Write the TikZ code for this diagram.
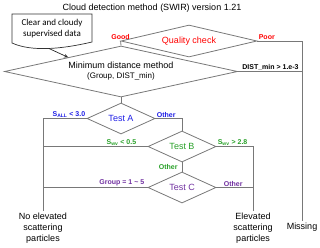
\documentclass[tikz,border=0pt]{standalone}
\usepackage{fontspec}
\setmainfont{Liberation Sans}
\newfontfamily\docfont{Carlito}
\usetikzlibrary{arrows.meta,shapes.geometric,positioning}
\definecolor{linegray}{RGB}{120,120,120}
\definecolor{cred}{RGB}{255,0,0}
\definecolor{cblue}{RGB}{30,30,230}
\definecolor{cgreen}{RGB}{40,160,40}
\definecolor{cpurple}{RGB}{112,48,160}
\begin{document}
\begin{tikzpicture}[x=1pt,y=-1pt]
\tikzset{
  decision/.style={diamond,draw=linegray,line width=0.8pt,inner sep=0pt,font=\fontsize{9}{11}\selectfont},
  testbox/.style={decision,aspect=2.2,minimum width=68pt,minimum height=31pt},
  flow/.style={draw=linegray,line width=0.8pt},
  cond/.style={font=\fontsize{7}{8}\selectfont\bfseries,inner sep=1pt},
  result/.style={align=center,font=\fontsize{9}{11}\selectfont,inner sep=2pt}
}
\useasboundingbox (0,0) rectangle (320,247);
\node[font=\fontsize{9}{11}\selectfont] (n_title) at (152,8) {Cloud detection method (SWIR) version 1.21};
% supervised data
\draw[black!80,line width=0.7pt] (12,14) -- (92,14) -- (92,42) .. controls (62,49) and (32,52) .. (12,43) -- cycle;
\node[align=center,font=\docfont\fontsize{9}{11}\selectfont] (n_doc) at (52,28.5) {Clear and cloudy\\supervised data};
\coordinate (c_docout) at (49,48.5);
% decisions
\node[decision,aspect=4.25,minimum width=136pt,minimum height=32pt,text=cred] (n_qc) at (189,41) {Quality check};
\node[decision,aspect=4.57,minimum width=233pt,minimum height=51pt,align=center] (n_mdm) at (121,71.5) {Minimum distance method\\[-1pt]{\fontsize{8}{9}\selectfont (Group, DIST\_min)}};
\node[testbox,text=cblue] (n_ta) at (121,118.5) {Test A};
\node[testbox,text=cgreen] (n_tb) at (182,146.5) {Test B};
\node[testbox,text=cpurple] (n_tc) at (182,187.5) {Test C};
% results
\node[result] (n_noel) at (43,228) {No elevated\\scattering\\particles};
\node[result] (n_el) at (253,228) {Elevated\\scattering\\particles};
\node[result] (n_miss) at (302,227) {Missing};
% connectors
\draw[-{Stealth[length=4pt,width=3.5pt]},black!85,line width=0.7pt] (c_docout) -- (n_mdm.165);
\draw[flow] (n_qc.west) -- node[cond,pos=0,anchor=south,text=cred] {Good} (n_mdm.north);
\draw[flow] (n_qc.east) -| node[cond,pos=0,anchor=south west,text=cred] {Poor} (n_miss.north);
\draw[flow] (n_mdm.east) -- node[cond,pos=1,anchor=south east,xshift=-2pt] {DIST\_min > 1.e-3} (n_miss.north |- n_mdm.east);
\draw[flow] (n_mdm.south) -- (n_ta.north);
\draw[flow] (n_ta.west) -| node[cond,pos=0,anchor=south east,text=cblue] {S\textsubscript{ALL} < 3.0} (n_noel.north);
\draw[flow] (n_ta.east) -| node[cond,pos=0,anchor=south west,text=cblue] {Other} (n_tb.north);
\draw[flow] (n_tb.west) -- node[cond,pos=0,anchor=south east,xshift=-10pt,text=cgreen] {S\textsubscript{wv} < 0.5} (n_noel.north |- n_tb.west);
\draw[flow] (n_tb.east) -| node[cond,pos=0,anchor=south west,text=cgreen] {S\textsubscript{wv} > 2.8} (n_el.north);
\draw[flow] (n_tb.south) -- node[cond,left,xshift=-3pt,text=cgreen] {Other} (n_tc.north);
\draw[flow] (n_tc.west) -- node[cond,pos=0,anchor=south east,xshift=-2pt,text=cpurple] {Group = 1 \textasciitilde{} 5} (n_noel.north |- n_tc.west);
\draw[flow] (n_tc.east) -- node[cond,pos=0,anchor=south west,xshift=6pt,text=cpurple] {Other} (n_el.north |- n_tc.east);
\end{tikzpicture}
\end{document}
